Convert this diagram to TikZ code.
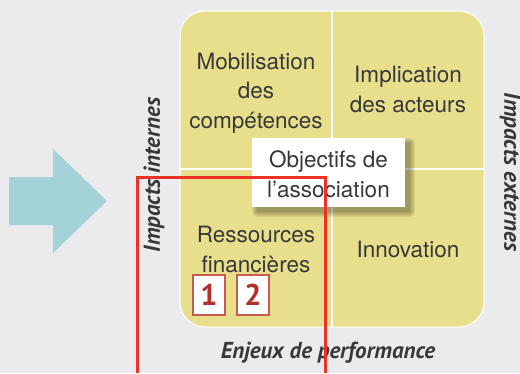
\documentclass[tikz,border=0pt]{standalone}
\usepackage{fontspec}
\setmainfont{TeX Gyre Heros}
\newfontfamily\labfont{PT Sans}
\definecolor{bg}{HTML}{EBEBED}
\definecolor{quad}{HTML}{E8DF8C}
\definecolor{arrowc}{HTML}{A3D3D7}
\definecolor{redline}{HTML}{EE3124}
\definecolor{txt}{HTML}{383838}
\definecolor{badgeb}{HTML}{C85A50}
\definecolor{badget}{HTML}{B3302A}
\tikzset{
  quadtext/.style={align=center, text=txt, inner sep=0pt, anchor=base,
    font=\fontsize{22.5}{29.5}\selectfont},
  sidelab/.style={text=txt, inner sep=0pt, font=\labfont\bfseries\itshape\fontsize{23}{26}\selectfont},
  badge/.style={draw=badgeb, line width=1.2pt, fill=white, minimum width=32pt, minimum height=40pt,
    inner sep=0pt, text=badget, font=\labfont\bfseries\fontsize{30}{32}\selectfont},
}
\begin{document}
\begin{tikzpicture}[x=1pt,y=-1pt]
\useasboundingbox (0,0) rectangle (520,373);
\fill[bg] (0,0) rectangle (520,373);
% arrow
\fill[arrowc] (9,177) -- (53,177) -- (53,149) -- (107,201) -- (53,253) -- (53,225) -- (9,225) -- cycle;
% matrix box
\filldraw[fill=quad, draw=white, line width=1pt, rounded corners=25pt] (180,11) rectangle (484,327);
\draw[white, line width=2pt] (332,11) -- (332,327);
\draw[white, line width=2pt] (180,169) -- (484,169);
% quadrant texts (anchor = baseline of last line)
\node[quadtext] (mob) at (256,128) {Mobilisation\\des\\compétences};
\node[quadtext] (imp) at (408,112) {Implication\\des acteurs};
\node[quadtext] (res) at (256,272) {Ressources\\financières};
\node[quadtext] (inn) at (408,257) {Innovation};
% shadow of center box
\foreach \i in {0,1,2,3,4,5}{
  \fill[black, opacity=0.06, rounded corners=\i pt] (257-\i,143-\i) rectangle (410+\i,212+\i);
}
\node[fill=white, minimum width=153pt, minimum height=69pt, inner sep=0pt] (obj) at (328.5,172.5) {};
\node[quadtext] (objt) at (328.5,197) {Objectifs de\\l’association};
% badges
\node[badge] (b1) at (209,295) {1};
\node[badge] (b2) at (253,295) {2};
% side labels
\node[sidelab, rotate=90] (int) at (154,175) {Impacts internes};
\node[sidelab, rotate=-90] (ext) at (510,172) {Impacts externes};
\node[sidelab] (enj) at (328,353) {Enjeux de performance};
% red frame
\coordinate (r1) at (137,373);
\coordinate (r2) at (137,177);
\coordinate (r3) at (325,177);
\coordinate (r4) at (325,373);
\draw[redline, line width=3pt] (r1) -- (r2) -- (r3) -- (r4);
\end{tikzpicture}
\end{document}
